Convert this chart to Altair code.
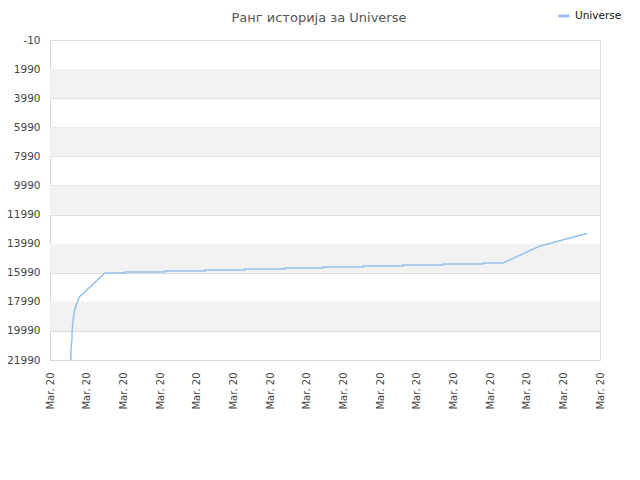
import altair as alt
import pandas as pd

# ---- data ----
dates = [
    "2020-03-01T13:36Z", "2020-03-01T13:45Z", "2020-03-01T14:20Z", "2020-03-01T14:31Z",
    "2020-03-01T15:11Z", "2020-03-01T16:02Z", "2020-03-01T17:21Z", "2020-03-01T19:11Z",
    "2020-03-02T12:00Z",
    "2020-03-03T01:05Z", "2020-03-03T01:05Z",
    "2020-03-04T03:16Z", "2020-03-04T03:16Z",
    "2020-03-05T05:27Z", "2020-03-05T05:27Z",
    "2020-03-06T07:38Z", "2020-03-06T07:38Z",
    "2020-03-07T09:49Z", "2020-03-07T09:49Z",
    "2020-03-08T10:41Z", "2020-03-08T10:41Z",
    "2020-03-09T12:52Z", "2020-03-09T12:52Z",
    "2020-03-10T15:03Z", "2020-03-10T15:03Z",
    "2020-03-11T17:14Z", "2020-03-11T17:14Z",
    "2020-03-12T19:25Z", "2020-03-12T19:25Z",
    "2020-03-13T08:31Z", "2020-03-14T08:44Z", "2020-03-15T15:29Z",
]
ranks = [
    21990, 21303, 20615, 19928,
    19240, 18621, 18140, 17659,
    16008,
    16008, 15940,
    15940, 15871,
    15871, 15802,
    15802, 15734,
    15734, 15665,
    15665, 15596,
    15596, 15528,
    15528, 15459,
    15459, 15390,
    15390, 15321,
    15321, 14152, 13293,
]
series_name = "Universe"
title_text = "Ранг историја за Universe"
y_ticks = [-10, 1990, 3990, 5990, 7990, 9990, 11990, 13990, 15990, 17990, 19990, 21990]
band_starts = [1990, 5990, 9990, 13990, 17990]
band_size = 2000
x_tick_days = list(range(1, 17))  # March 2020, labelled "Mar. 20"

line_color = "#92c1f0"
font = "DejaVu Sans"

df = pd.DataFrame({"date": dates, "rank": ranks, "series": series_name,
                   "order": list(range(len(dates)))})
bands = pd.DataFrame({"y0": band_starts, "y1": [b + band_size for b in band_starts]})

x_domain = [alt.DateTime(year=2020, month=3, date=1, utc=True),
            alt.DateTime(year=2020, month=3, date=16, utc=True)]
x_values = [alt.DateTime(year=2020, month=3, date=d, utc=True) for d in x_tick_days]

y_scale = alt.Scale(domain=[y_ticks[0], y_ticks[-1]], reverse=True, nice=False, zero=False)
y_axis = alt.Axis(values=y_ticks, labelExpr="'' + datum.value", ticks=False,
                  grid=True, gridColor="#dcdcdc", title=None, labelPadding=10,
                  labelFontSize=10.5, labelColor="#444", labelFont=font,
                  domainColor="#d9d9d9", labelOverlap=False, labelFlush=False)

band_layer = alt.Chart(bands).mark_rect(color="#f2f2f2").encode(
    y=alt.Y("y0:Q", scale=y_scale, axis=y_axis),
    y2="y1:Q",
)

line = alt.Chart(df).mark_line(strokeWidth=1.5, clip=True).encode(
    x=alt.X("date:T",
            scale=alt.Scale(type="utc", domain=x_domain),
            axis=alt.Axis(values=x_values, format="%b. %y", labelAngle=270,
                          labelAlign="right", labelBaseline="middle",
                          labelPadding=12, ticks=False, grid=False, title=None,
                          labelFontSize=10, labelColor="#444", labelFont=font,
                          domainColor="#d9d9d9", labelOverlap=False, labelFlush=False)),
    y=alt.Y("rank:Q", scale=y_scale, axis=y_axis),
    order="order:Q",
    color=alt.Color("series:N",
                    scale=alt.Scale(domain=[series_name], range=[line_color]),
                    legend=alt.Legend(title=None, orient="none", legendX=507, legendY=-31,
                                      symbolType="stroke", symbolStrokeWidth=3,
                                      symbolSize=120, labelFontSize=10.5, labelFont=font,
                                      labelColor="#111", padding=0)),
)

chart = alt.layer(band_layer, line).properties(
    width=550,
    height=320,
    title=alt.TitleParams(title_text, fontSize=13, font=font, color="#555",
                          fontWeight="normal", anchor="middle", offset=0, dx=-6,
                          dy=29, baseline="bottom"),
    autosize=alt.AutoSizeParams(type="none"),
    padding={"left": 42, "top": 32, "right": 32, "bottom": 112},
).configure_view(stroke="#d9d9d9").configure(background="white")

chart.save("out.html", embed_options={"renderer": "svg", "actions": False})
